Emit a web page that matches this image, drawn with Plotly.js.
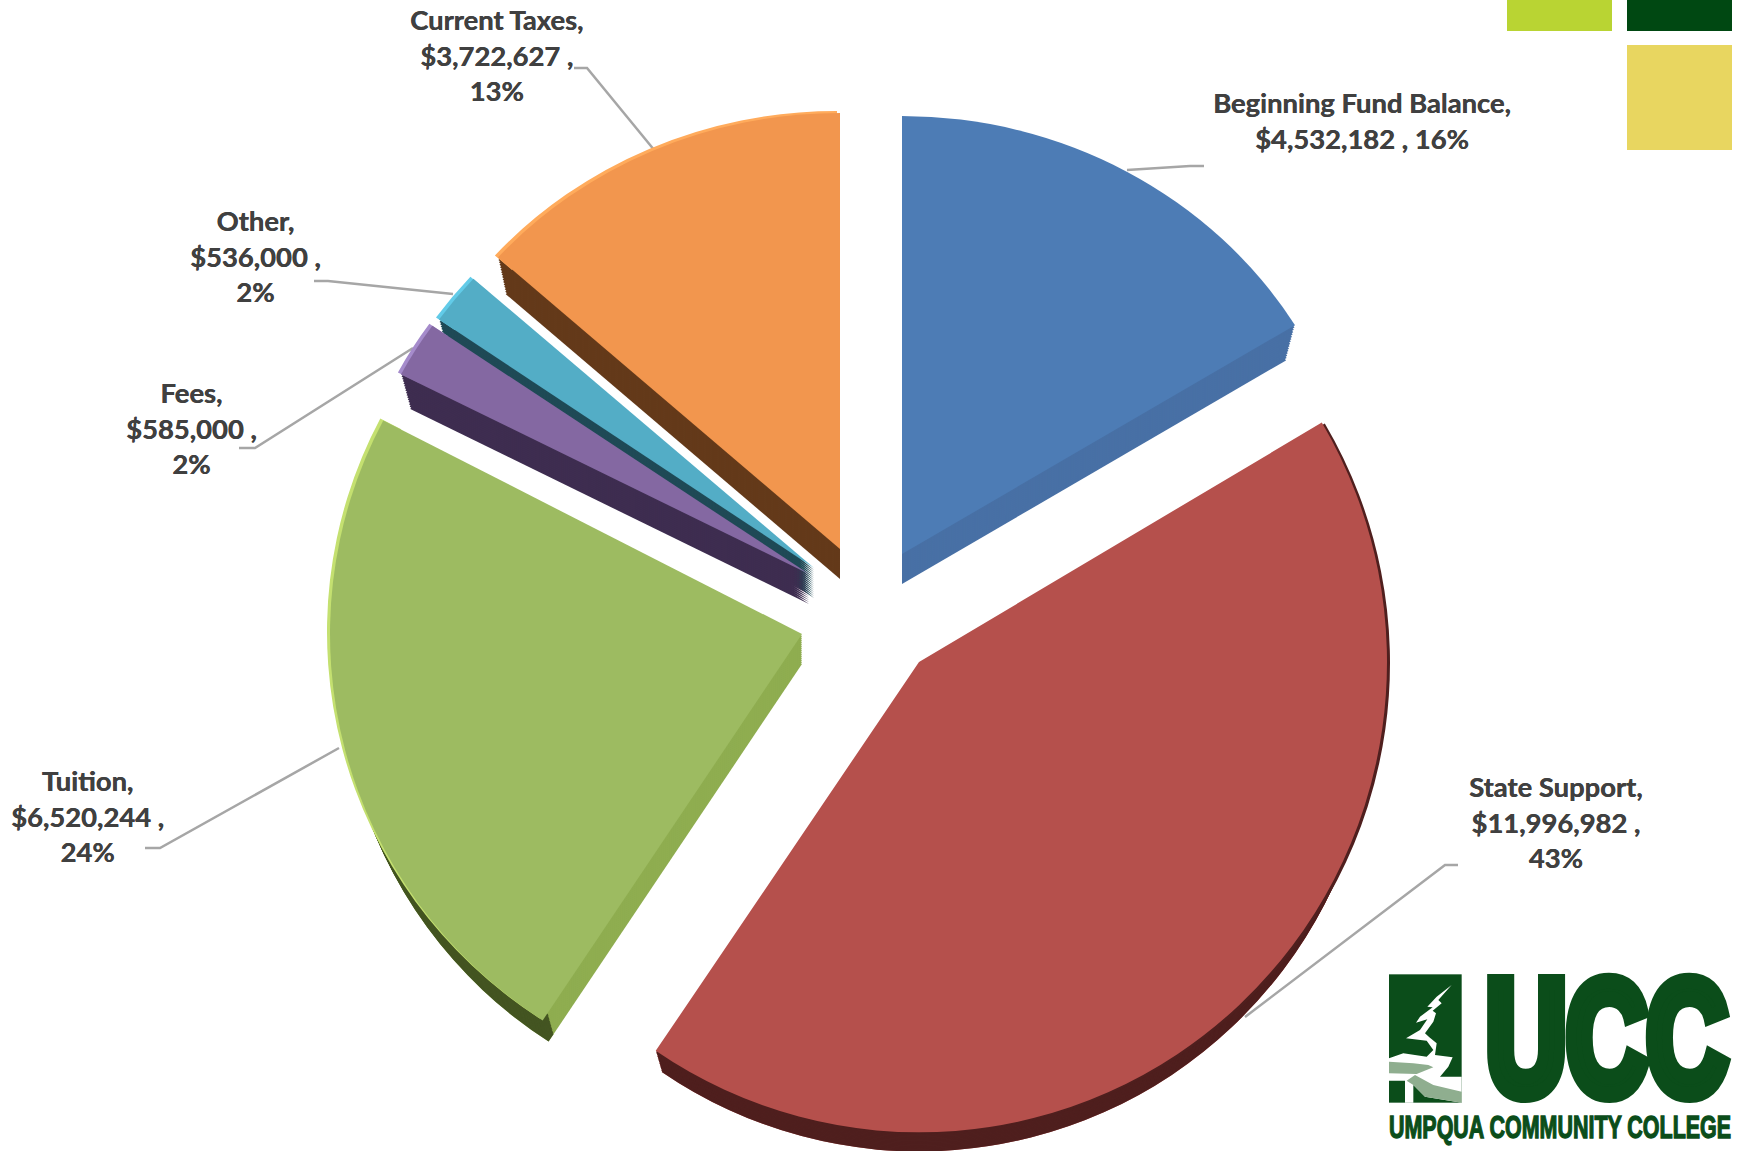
<!DOCTYPE html>
<html>
<head>
<meta charset="utf-8">
<script src="https://cdn.plot.ly/plotly-3.0.1.min.js"></script>
<style>
  html, body { margin: 0; padding: 0; background: #fff; }
  #wrap { position: relative; width: 1750px; height: 1151px; overflow: hidden; }
  #chart { width: 1750px; height: 1151px; }
  #logo { position: absolute; left: 1370px; top: 900px; width: 380px; height: 251px; }
</style>
</head>
<body>
<div id="wrap">
  <div id="chart"></div>
  <!-- College logo, set over the chart's lower right corner -->
  <svg id="logo" viewBox="0 -150 1140 753" xmlns="http://www.w3.org/2000/svg">
    <rect x="57" y="73" width="218" height="385" fill="#0b4d1a"/>
    <path fill="#fff" d="M245 105 L200 140 L172 170 L188 172 L150 200 L138 218 L172 208 L150 240 L108 265 L170 272 L190 300 L170 320 L100 310 L57 325 L57 392 L105 392 L105 458 L130 458 L130 405 L165 440 L275 458 L275 380 L210 380 L235 350 L248 322 L195 315 L200 280 L178 262 L165 250 L190 215 L198 190 L188 182 L215 160 L205 150 Z"/>
    <path fill="#8fae8f" d="M57 335 L130 340 L175 345 L190 352 L140 372 L57 370 Z"/>
    <path fill="#8fae8f" d="M110 392 L135 375 L190 405 L275 425 L275 458 L165 440 L130 405 Z"/>
    <text transform="translate(348 428) scale(0.69 1)" font-family="Liberation Sans" font-weight="700" font-size="484" fill="#0b4d1a" stroke="#0b4d1a" stroke-width="48" stroke-linejoin="miter">UCC</text>
    <text transform="translate(57 563) scale(0.70 1)" font-family="Liberation Sans" font-weight="700" font-size="92" fill="#0b4d1a" stroke="#0b4d1a" stroke-width="4">UMPQUA COMMUNITY COLLEGE</text>
  </svg>
</div>
<script>
// General fund resources by source, in dollars, as labelled on the chart.
const sources = ['Beginning Fund Balance', 'State Support', 'Tuition', 'Fees', 'Other', 'Current Taxes'];
const amounts = [4532182, 11996982, 6520244, 585000, 536000, 3722627];
const percentLabels = ['16%', '43%', '24%', '2%', '2%', '13%'];

// Drawing styles for each source, in the same order.
const topColors  = ['#4d7cb5', '#b5504c', '#9dbb61', '#8468a2', '#53adc6', '#f2964e'];
const sideColors = ['#4870a5', '#b5504c', '#8fad50', '#3e2d50', '#1f4a56', '#643a1a'];
const rimColors  = [null, '#4f1f1e', '#445522', null, null, null];
const glowColors = [null, null, '#c4e070', '#a58bcb', '#62cbe8', '#ffab5c'];

// Each slice sits at its own exploded position (pixels of the apex) with its own
// horizontal radius; tilt squashes it vertically for the receding part of the pie.
const apexX  = [902, 919, 802, 809, 814, 840];
const apexY  = [554, 662, 634, 574, 568, 549];
const radius = [461, 468, 472, 460, 458, 460];
const tilt   = [0.95, 1.005, 0.98, 0.94, 0.945, 0.948];
const turn   = [0, 0.9, 0, 0, 0, 0];
// Painted back to front so nearer slabs cover the sides of those behind them.
const paintOrder = [5, 4, 3, 2, 0, 1];

const W = 1750, H = 1151;
const DEPTH = 30, SHRINK = 0.023, STEPS = 15;
const total = amounts.reduce((a, b) => a + b, 0);

function startAngle(i) {
  return amounts.slice(0, i).reduce((a, b) => a + b, 0) / total * 360 + turn[i];
}

// One pie trace holding slice i, with the remainder of the circle left transparent.
function sliceTrace(i, dx, dy, scale, color, hole) {
  const r = radius[i] * scale, cx = apexX[i] + dx, cy = apexY[i] + dy;
  return {
    type: 'pie', sort: false, direction: 'clockwise',
    rotation: startAngle(i),
    values: [amounts[i], total - amounts[i]],
    labels: [sources[i], 'rest'],
    hole: hole || 0,
    domain: { x: [(cx - r) / W, (cx + r) / W], y: [Math.max(0, 1 - (cy + r) / H), 1 - (cy - r) / H] },
    marker: { colors: [color, 'rgba(0,0,0,0)'], line: { width: 0 } },
    textinfo: 'none', hoverinfo: 'skip', showlegend: false,
    meta: { cx: cx, cy: cy, k: tilt[i] }
  };
}

const traces = [];
paintOrder.forEach(i => {
  // Extruded sides: a stack of slightly smaller copies stepping downward.
  for (let s = STEPS; s >= 1; s--) {
    const t = s / STEPS;
    traces.push(sliceTrace(i, 0, DEPTH * t, 1 - SHRINK * t, sideColors[i], 0));
  }
  // Darker outer rim where the arc faces the viewer.
  if (rimColors[i]) {
    for (let s = STEPS; s >= 1; s--) {
      const t = s / STEPS;
      traces.push(sliceTrace(i, 0, DEPTH * t, 1 - SHRINK * t, rimColors[i], 0.98));
    }
    if (i === 1) traces.push(sliceTrace(i, 3, 1, 1, rimColors[i], 0.98));
  }
  // Light bevel on the upper left of the arc, then the top face.
  if (glowColors[i]) traces.push(sliceTrace(i, -3, -2, 1, glowColors[i], 0.95));
  traces.push(sliceTrace(i, 0, 0, 1, topColors[i], 0));
});

// Data label text: name, dollars and share.
function money(v) { return '$' + v.toLocaleString('en-US'); }
const labelText = sources.map((s, i) =>
  i === 0
    ? s + ',<br>' + money(amounts[i]) + ' , ' + percentLabels[i]
    : s + ',<br>' + money(amounts[i]) + ' ,<br>' + percentLabels[i]);

const labelX = [1362, 1556, 87, 191, 255, 497];
const labelY = [120, 822, 816, 428, 256, 55];

const annotations = sources.map((s, i) => ({
  xref: 'paper', yref: 'paper', x: labelX[i] / W, y: 1 - labelY[i] / H,
  xanchor: 'center', yanchor: 'middle', align: 'center', showarrow: false,
  text: labelText[i],
  font: { family: 'Lato, sans-serif', size: 27.4, weight: 700, color: '#404040', shadow: '0.4px 0 0 #404040' }
}));

// Elbowed leader lines from each label to its slice.
const leaders = [
  [[1204, 166], [1190, 166], [1127, 170]],
  [[1458, 865], [1445, 865], [1245, 1017]],
  [[145, 848], [160, 848], [339, 748]],
  [[239, 448], [255, 448], [413, 348]],
  [[314, 281], [328, 281], [453, 294]],
  [[574, 68], [587, 68], [655, 151]]
];
const px = p => (p[0] / W) + ' ' + (1 - p[1] / H);
const shapes = leaders.map(l => ({
  type: 'path', xref: 'paper', yref: 'paper', layer: 'below',
  path: 'M' + l.map(px).join(' L'),
  line: { color: '#a6a6a6', width: 2.5 }, fillcolor: 'rgba(0,0,0,0)'
}));

// Corner colour blocks.
const blocks = [
  { x0: 1507, x1: 1612, y0: 0, y1: 31, c: '#b9d433' },
  { x0: 1627, x1: 1732, y0: 0, y1: 31, c: '#004812' },
  { x0: 1627, x1: 1732, y0: 45, y1: 150, c: '#e8d660' }
];
blocks.forEach(b => shapes.push({
  type: 'rect', xref: 'paper', yref: 'paper', layer: 'above',
  x0: b.x0 / W, x1: b.x1 / W, y0: 1 - b.y0 / H, y1: 1 - b.y1 / H,
  fillcolor: b.c, line: { width: 0 }
}));

Plotly.newPlot('chart', traces, {
  width: W, height: H,
  margin: { l: 0, r: 0, t: 0, b: 0 },
  paper_bgcolor: '#ffffff',
  showlegend: false,
  annotations: annotations,
  shapes: shapes
}, { displayModeBar: false, staticPlot: true }).then(gd => {
  // Tilt each drawn slice about its own apex to give the pie its perspective.
  gd.querySelectorAll('.pielayer .trace').forEach((g, n) => {
    const m = traces[n].meta;
    g.setAttribute('transform',
      'translate(' + m.cx + ' ' + m.cy + ') scale(1 ' + m.k + ') translate(' + (-m.cx) + ' ' + (-m.cy) + ')');
  });
});
</script>
</body>
</html>
